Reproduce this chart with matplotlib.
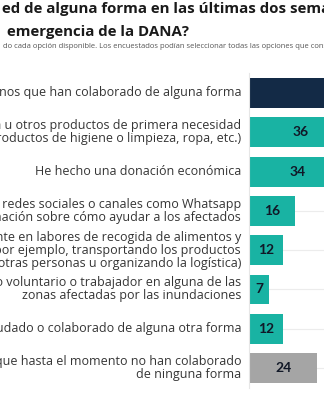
import matplotlib
matplotlib.use("Agg")
import matplotlib.pyplot as plt
import numpy as np

labels = [
    "Total de ciudadanos que han colaborado de alguna forma",
    "He donado alimentos, agua u otros productos de primera necesidad\n"
    "(medicamentos, productos de higiene o limpieza, ropa, etc.)",
    "He hecho una donación económica",
    "He compartido en redes sociales o canales como Whatsapp\n"
    "información sobre cómo ayudar a los afectados",
    "He participado activamente en labores de recogida de alimentos y\n"
    "productos (por ejemplo, transportando los productos\n"
    "donados a otras personas u organizando la logística)",
    "He ido como voluntario o trabajador en alguna de las\n"
    "zonas afectadas por las inundaciones",
    "He ayudado o colaborado de alguna otra forma",
    "Ciudadanos que hasta el momento no han colaborado\n"
    "de ninguna forma",
]
values = [76, 36, 34, 16, 12, 7, 12, 24]
groups = ["total", "yes", "yes", "yes", "yes", "yes", "yes", "no"]

title_lines = [
    "ed de alguna forma en las últimas dos semanas",
    "emergencia de la DANA?",
]
subtitle = ("do cada opción disponible. Los encuestados podían seleccionar "
            "todas las opciones que consideraran")

colors = {"total": "#132a46", "yes": "#19b3a3", "no": "#a5a5a5"}
plt.rcParams["font.family"] = ["Open Sans", "DejaVu Sans"]

W, H = 324, 400
fig = plt.figure(figsize=(W / 100, H / 100), dpi=100)
fig.patch.set_facecolor("white")

# axes placed in pixel terms; it runs past the right edge like the crop
x0_px = 249.3
px_per_unit = 2.83
row0, step = 93.0, 39.3
n = len(values)
top_px = row0 - step / 2
bot_px = row0 + step * (n - 1) + step / 2
ax = fig.add_axes([x0_px / W, 1 - bot_px / H, 100 * px_per_unit / W, (bot_px - top_px) / H])

y = np.arange(n)
for yi in y:
    ax.axhline(yi, color="#ececec", lw=0.8, zorder=0)
ax.barh(y, values, height=0.76, color=[colors[g] for g in groups], zorder=2)
for yi, v in zip(y, values):
    ax.text(v / 2, yi, str(v), ha="center", va="center", fontsize=10,
            fontweight="bold", color="#111827", zorder=3, family="Lato")

ax.set_xlim(0, 100)
ax.set_ylim(n - 0.5, -0.5)
ax.set_xticks([])
ax.set_yticks([])
for s in ["top", "right", "bottom"]:
    ax.spines[s].set_visible(False)
ax.spines["left"].set_color("#e6e6e6")
ax.spines["left"].set_linewidth(0.8)

# category labels, right aligned just left of the bars
for yi, lab in zip(y, labels):
    ax.text(-2.9, yi, lab, ha="right", va="center", fontsize=9,
            color="#353535", linespacing=1.0, clip_on=False)

# title and subtitle (cut off in the reference crop)
fig.text(2 / W, 1 - 13.3 / H, title_lines[0], ha="left", va="baseline",
         fontsize=10.8, fontweight="bold", color="#1a1a1a")
fig.text(7 / W, 1 - 36 / H, title_lines[1], ha="left", va="baseline",
         fontsize=10.8, fontweight="bold", color="#1a1a1a")
fig.text(3 / W, 1 - 46 / H, subtitle, ha="left", va="center",
         fontsize=5.5, color="#555555")

fig.savefig("out.png", dpi=100)
